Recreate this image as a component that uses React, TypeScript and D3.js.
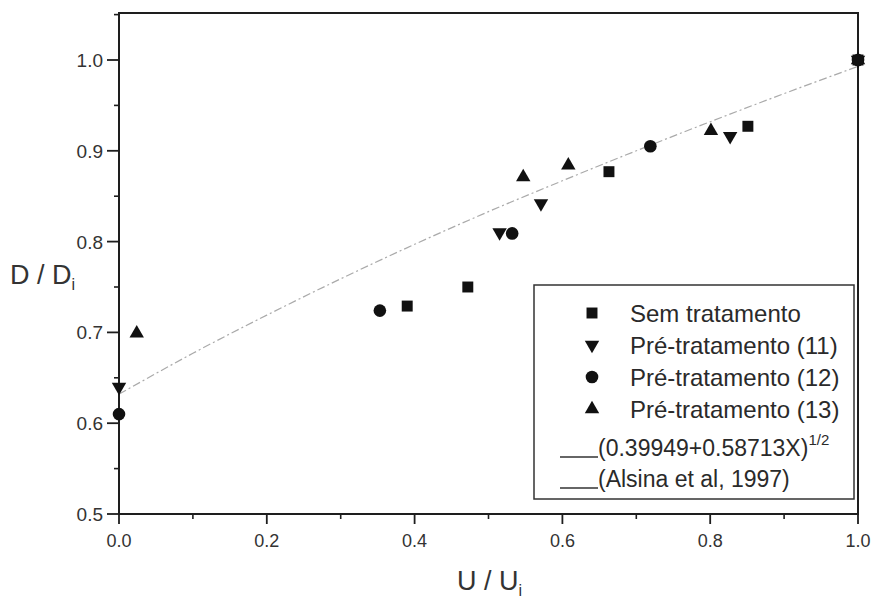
import React from "react";
import * as d3 from "d3";

const seriesNames = ["Sem tratamento", "Pré-tratamento (11)", "Pré-tratamento (12)", "Pré-tratamento (13)"];
const semX = [0.39, 0.472, 0.663, 0.851, 1.0];
const semY = [0.729, 0.75, 0.877, 0.927, 1.0];
const p11X = [0.0, 0.515, 0.571, 0.827, 1.0];
const p11Y = [0.64, 0.81, 0.842, 0.916, 1.0];
const p12X = [0.0, 0.353, 0.532, 0.719, 1.0];
const p12Y = [0.61, 0.724, 0.809, 0.905, 1.0];
const p13X = [0.024, 0.547, 0.608, 0.801, 1.0];
const p13Y = [0.699, 0.871, 0.884, 0.922, 1.0];
const curveX = [0, 0.1, 0.2, 0.3, 0.4, 0.5, 0.6, 0.7, 0.8, 0.9, 1.0];
const curveY = [0.632, 0.677, 0.719, 0.759, 0.797, 0.833, 0.867, 0.9, 0.932, 0.963, 0.993];
const xTicks = [0, 0.2, 0.4, 0.6, 0.8, 1.0];
const xMinor = [0.1, 0.3, 0.5, 0.7, 0.9];
const yTicks = [0.5, 0.6, 0.7, 0.8, 0.9, 1.0];
const yMinor = [0.55, 0.65, 0.75, 0.85, 0.95, 1.05];

const FONT = "'Liberation Sans', Arial, sans-serif";
const INK = "#1e1e1e";

type Kind = "square" | "down" | "circle" | "up";
const kinds: Kind[] = ["square", "down", "circle", "up"];

function symPath(kind: Kind): { d: string; rot: number } {
  if (kind === "square") return { d: d3.symbol(d3.symbolSquare, 120)()!, rot: 0 };
  if (kind === "circle") return { d: d3.symbol(d3.symbolCircle, 125)()!, rot: 0 };
  return { d: d3.symbol(d3.symbolTriangle, 90)()!, rot: kind === "down" ? 180 : 0 };
}

export default function App() {
  const W = 878, H = 602;
  const left = 119, right = 858, top = 13, bottom = 514;
  const x = d3.scaleLinear().domain([0, 1]).range([left, right]);
  const y = d3.scaleLinear().domain([0.5, 1.0]).range([bottom, bottom - 454]);

  const series = [
    { xs: semX, ys: semY },
    { xs: p11X, ys: p11Y },
    { xs: p12X, ys: p12Y },
    { xs: p13X, ys: p13Y },
  ];

  const line = d3
    .line<number>()
    .x((_, i) => x(curveX[i]))
    .y((v) => y(v))
    .curve(d3.curveMonotoneX);

  const legX = 534, legY = 285, legW = 320, legH = 214;
  const rowY = [313, 345, 377, 409];

  return (
    <svg width={W} height={H} style={{ display: "block", position: "absolute", left: 0, top: 0, background: "#fff" }}>
      <rect x={0} y={0} width={W} height={H} fill="#fff" />
      {/* fit curve */}
      <path d={line(curveY) || ""} fill="none" stroke="#aaaaaa" strokeWidth={1.2} strokeDasharray="8 3 2 3" />

      {/* frame */}
      <rect x={left} y={top} width={right - left} height={bottom - top} fill="none" stroke={INK} strokeWidth={2} />

      {/* x ticks */}
      {xTicks.map((t) => (
        <g key={"xt" + t}>
          <line x1={x(t)} x2={x(t)} y1={bottom} y2={bottom + 10} stroke={INK} strokeWidth={1.8} />
          <text x={x(t)} y={bottom + 33} textAnchor="middle" fontFamily={FONT} fontSize={18} fill="#333">
            {t.toFixed(1)}
          </text>
        </g>
      ))}
      {xMinor.map((t) => (
        <line key={"xm" + t} x1={x(t)} x2={x(t)} y1={bottom} y2={bottom + 5} stroke={INK} strokeWidth={1.6} />
      ))}
      {/* y ticks */}
      {yTicks.map((t) => (
        <g key={"yt" + t}>
          <line x1={left - 12} x2={left} y1={y(t)} y2={y(t)} stroke={INK} strokeWidth={1.8} />
          <text x={left - 16} y={y(t) + 7} textAnchor="end" fontFamily={FONT} fontSize={19} fill="#333">
            {t.toFixed(1)}
          </text>
        </g>
      ))}
      {yMinor.map((t) => (
        <line key={"ym" + t} x1={left - 5} x2={left} y1={y(t)} y2={y(t)} stroke={INK} strokeWidth={1.6} />
      ))}

      {/* axis titles */}
      <text x={10} y={284} fontFamily={FONT} fontSize={27} fill="#333">
        D / D<tspan fontSize={16} dy={6}>i</tspan>
      </text>
      <text x={457} y={590} fontFamily={FONT} fontSize={27} fill="#333">
        U / U<tspan fontSize={16} dy={6}>i</tspan>
      </text>

      {/* data */}
      {series.map((s, si) => {
        const sp = symPath(kinds[si]);
        return (
          <g key={"s" + si}>
            {s.xs.map((xv, i) => (
              <path
                key={i}
                d={sp.d}
                transform={`translate(${x(xv)},${y(s.ys[i])}) rotate(${sp.rot})`}
                fill="#111"
              />
            ))}
          </g>
        );
      })}

      {/* legend */}
      <rect x={legX} y={legY} width={legW} height={legH} fill="#fff" stroke="#333" strokeWidth={1.5} />
      {seriesNames.map((n, i) => {
        const sp = symPath(kinds[i]);
        return (
          <g key={"l" + i}>
            <path d={sp.d} transform={`translate(592,${rowY[i]}) rotate(${sp.rot})`} fill="#111" />
            <text x={630} y={rowY[i] + 8.5} fontFamily={FONT} fontSize={24} fill="#2a2a2a">
              {n}
            </text>
          </g>
        );
      })}
      <line x1={560} x2={598} y1={457} y2={457} stroke="#333" strokeWidth={1.3} />
      <text x={598} y={456} fontFamily={FONT} fontSize={23} fill="#2a2a2a">
        (0.39949+0.58713X)<tspan fontSize={15} dy={-11}>1/2</tspan>
      </text>
      <line x1={560} x2={598} y1={488} y2={488} stroke="#333" strokeWidth={1.3} />
      <text x={598} y={487} fontFamily={FONT} fontSize={23} fill="#2a2a2a">
        (Alsina et al, 1997)
      </text>
    </svg>
  );
}
